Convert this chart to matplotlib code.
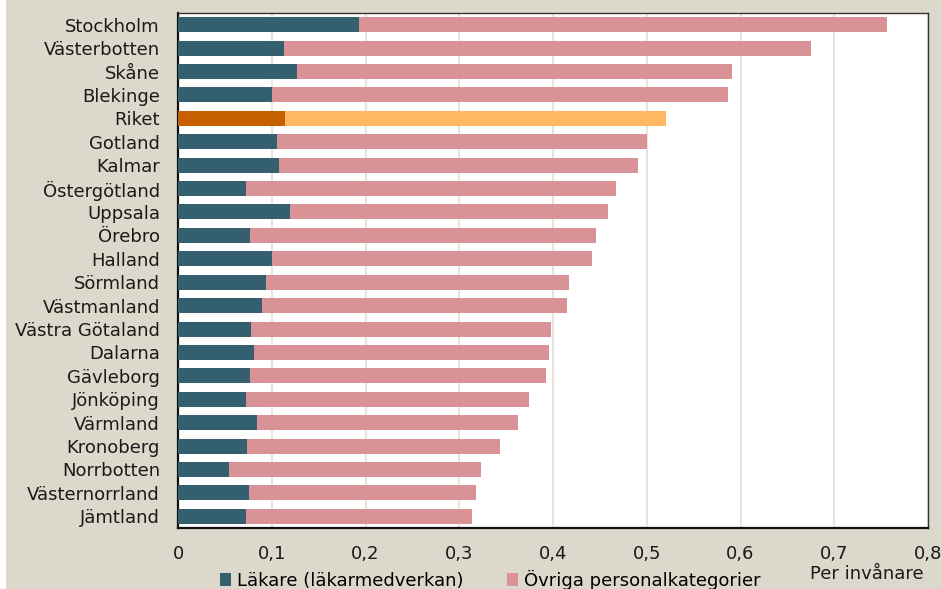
import matplotlib.pyplot as plt
from matplotlib.patches import Rectangle, Patch

regions = ['Stockholm', 'Västerbotten', 'Skåne', 'Blekinge', 'Riket', 'Gotland', 'Kalmar',
           'Östergötland', 'Uppsala', 'Örebro', 'Halland', 'Sörmland', 'Västmanland',
           'Västra Götaland', 'Dalarna', 'Gävleborg', 'Jönköping', 'Värmland', 'Kronoberg',
           'Norrbotten', 'Västernorrland', 'Jämtland']
lakare = [0.193, 0.113, 0.127, 0.100, 0.114, 0.106, 0.108, 0.072, 0.119, 0.077, 0.100,
          0.094, 0.090, 0.078, 0.081, 0.077, 0.073, 0.084, 0.074, 0.054, 0.076, 0.072]
totalt = [0.756, 0.675, 0.591, 0.587, 0.520, 0.500, 0.491, 0.467, 0.459, 0.446, 0.442,
          0.417, 0.415, 0.398, 0.396, 0.392, 0.374, 0.363, 0.343, 0.323, 0.318, 0.314]
ovriga = [t - l for t, l in zip(totalt, lakare)]
xticks = [0, 0.1, 0.2, 0.3, 0.4, 0.5, 0.6, 0.7, 0.8]
xticklabels = ['0', '0,1', '0,2', '0,3', '0,4', '0,5', '0,6', '0,7', '0,8']

bg = '#ddd8cc'
c_lak = '#335f6e'
c_ovr = '#d99296'
c_lak_riket = '#c55f00'
c_ovr_riket = '#ffb861'

plt.rcParams['font.family'] = 'DejaVu Sans'

fig = plt.figure(figsize=(9.42, 5.89), dpi=100)
fig.patch.set_facecolor(bg)
fig.patches.append(Rectangle((0, 0), 6 / 942, 1, transform=fig.transFigure,
                             facecolor='white', edgecolor='none', zorder=0))
ax = fig.add_axes([178 / 942, 1 - 528 / 589, 750 / 942, 515 / 589])

y = list(range(len(regions)))
col_l = [c_lak_riket if r == 'Riket' else c_lak for r in regions]
col_o = [c_ovr_riket if r == 'Riket' else c_ovr for r in regions]
ax.barh(y, lakare, height=0.64, color=col_l, zorder=3)
ax.barh(y, ovriga, left=lakare, height=0.64, color=col_o, zorder=3)

ax.set_xlim(0, 0.8)
ax.set_ylim(len(regions) - 0.5, -0.5)
ax.set_yticks(y)
ax.set_yticklabels(regions, fontsize=13, color='#1a1a1a')
ax.set_xticks(xticks)
ax.set_xticklabels(xticklabels, fontsize=13, color='#1a1a1a')
ax.tick_params(axis='y', length=0, pad=13)
ax.tick_params(axis='x', length=0, pad=12)
ax.grid(axis='x', color='#e7e4dd', linewidth=1.5, zorder=0)
for s in ['left', 'bottom']:
    ax.spines[s].set_linewidth(1.6)
    ax.spines[s].set_color('#111111')
for s in ['top', 'right']:
    ax.spines[s].set_linewidth(1.0)
    ax.spines[s].set_color('#333333')

handles = [Patch(facecolor=c_lak, label='Läkare (läkarmedverkan)'),
           Patch(facecolor=c_ovr, label='Övriga personalkategorier')]
fig.legend(handles=handles, loc='center', bbox_to_anchor=(490 / 942, 1 - 580 / 589),
           ncol=2, frameon=False, fontsize=13, handlelength=0.65, handleheight=0.75,
           handletextpad=0.3, columnspacing=2.4, borderpad=0)
fig.text(867 / 942, 1 - 574 / 589, 'Per invånare', fontsize=13, color='#1a1a1a',
         ha='center', va='center')

plt.savefig('out.png', dpi=100, facecolor=bg)
plt.close()
